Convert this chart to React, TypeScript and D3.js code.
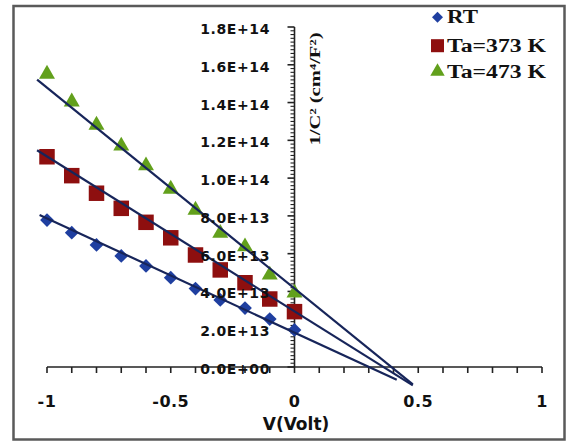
import React from "react";
import * as d3 from "d3";

// ---- data (values in units of 1e13 cm^4/F^2) ----
const voltages = [-1, -0.9, -0.8, -0.7, -0.6, -0.5, -0.4, -0.3, -0.2, -0.1, 0];
const rtValues = [7.78, 7.11, 6.46, 5.88, 5.35, 4.73, 4.15, 3.55, 3.12, 2.54, 1.96];
const ta373Values = [11.13, 10.13, 9.2, 8.4, 7.66, 6.84, 5.93, 5.14, 4.46, 3.6, 2.93];
const ta473Values = [15.51, 14.04, 12.81, 11.7, 10.66, 9.42, 8.31, 7.09, 6.37, 4.87, 3.92];

const seriesNames = ["RT", "Ta=373 K", "Ta=473 K"];
const seriesColors = ["#1F3FA0", "#8E0F0F", "#62A01C"];

// linear trend lines
const fitSlopes = [-6.05, -8.2, -10.63];
const fitIntercepts = [1.82, 2.95, 4.16];
const fitStart = [-1.03, -1.04, -1.04];
const fitEnd = [0.413, 0.478, 0.478];

const yTicks = [0, 2, 4, 6, 8, 10, 12, 14, 16, 18];
const yTickLabels = ["0.0E+00", "2.0E+13", "4.0E+13", "6.0E+13", "8.0E+13", "1.0E+14", "1.2E+14", "1.4E+14", "1.6E+14", "1.8E+14"];
const xTicks = [-1, -0.5, 0, 0.5, 1];
const xTickLabels = ["-1", "-0.5", "0", "0.5", "1"];

const W = 571;
const H = 443;

export default function App() {
  const x = d3.scaleLinear().domain([-1, 1]).range([47, 542]);
  const y = d3.scaleLinear().domain([0, 18]).range([367, 27]);
  const x0 = x(0);
  const y0 = y(0);

  const series = [rtValues, ta373Values, ta473Values];
  const symbols = [
    { type: d3.symbolSquare, size: 95, rot: 45 },
    { type: d3.symbolSquare, size: 240, rot: 0 },
    { type: d3.symbolTriangle, size: 110, rot: 0 },
  ];
  const legendSymbols = [
    { type: d3.symbolSquare, size: 60, rot: 45 },
    { type: d3.symbolSquare, size: 170, rot: 0 },
    { type: d3.symbolTriangle, size: 90, rot: 0 },
  ];

  const minorY = d3.range(0, 18.001, 0.2);
  const minorX = d3.range(-1, 1.0001, 0.1);

  const fitLine = d3
    .line<number>()
    .x((v) => x(v))
    .y(function (this: any, v: number) {
      return 0;
    });

  const labelFont = "'DejaVu Sans', Verdana, sans-serif";
  const serif = "'Liberation Serif', 'Times New Roman', serif";

  return (
    <svg
      width={W}
      height={H}
      style={{ position: "absolute", left: 0, top: 0, background: "#fff" }}
    >
      <rect x={0} y={0} width={W} height={H} fill="#fff" />
      {/* frame */}
      <rect x={13.5} y={6} width={551} height={433.5} fill="none" stroke="#5a5a5a" strokeWidth={2.5} />

      {/* axes */}
      <line x1={x(-1)} x2={x(1)} y1={y0} y2={y0} stroke="#222" strokeWidth={1.6} />
      <line x1={x0} x2={x0} y1={y(18)} y2={y0} stroke="#222" strokeWidth={1.6} />
      {minorX.map((v, i) => (
        <line key={"xt" + i} x1={x(v)} x2={x(v)} y1={y0} y2={y0 + 6} stroke="#222" strokeWidth={1.6} />
      ))}
      {minorY.map((v, i) => {
        const major = Math.abs(v / 2 - Math.round(v / 2)) < 1e-6;
        return (
          <line
            key={"yt" + i}
            x1={x0 - (major ? 7 : 4)}
            x2={x0}
            y1={y(v)}
            y2={y(v)}
            stroke="#222"
            strokeWidth={major ? 1.6 : 1.1}
          />
        );
      })}

      {/* markers */}
      {series.map((vals, si) => (
        <g key={"s" + si} fill={seriesColors[si]}>
          {vals.map((v, i) => (
            <path
              key={i}
              d={d3.symbol(symbols[si].type, symbols[si].size)() || ""}
              transform={`translate(${x(voltages[i])},${y(v)}) rotate(${symbols[si].rot})`}
            />
          ))}
        </g>
      ))}

      {/* trend lines */}
      {fitSlopes.map((m, si) => {
        const pts: [number, number][] = [fitStart[si], fitEnd[si]].map((v) => [
          x(v),
          y(fitIntercepts[si] + m * v),
        ]);
        return (
          <path
            key={"f" + si}
            d={d3.line()(pts) || ""}
            fill="none"
            stroke="#17255A"
            strokeWidth={2.2}
          />
        );
      })}

      {/* y tick labels */}
      {yTicks.map((v, i) => (
        <text
          key={"yl" + i}
          x={270}
          y={y(v) + 2}
          textAnchor="end"
          dominantBaseline="central"
          fontFamily={labelFont}
          fontWeight="bold"
          fontSize={14}
          letterSpacing={0.6}
          fill="#111"
        >
          {yTickLabels[i]}
        </text>
      ))}

      {/* x tick labels */}
      {xTicks.map((v, i) => (
        <text
          key={"xl" + i}
          x={x(v)}
          y={407}
          textAnchor="middle"
          fontFamily={labelFont}
          fontWeight="bold"
          fontSize={16}
          letterSpacing={0.5}
          fill="#111"
        >
          {xTickLabels[i]}
        </text>
      ))}

      {/* axis titles */}
      <text
        x={296}
        y={430}
        textAnchor="middle"
        fontFamily={labelFont}
        fontWeight="bold"
        fontSize={17}
        fill="#111"
      >
        V(Volt)
      </text>
      <text
        transform="translate(320,89) rotate(-90)"
        textAnchor="middle"
        fontFamily={serif}
        fontWeight="bold"
        fontSize={15}
        fill="#111"
        textLength={113}
        lengthAdjust="spacingAndGlyphs"
      >
        1/C² (cm⁴/F²)
      </text>

      {/* legend */}
      {seriesNames.map((name, si) => {
        const ly = [17.3, 45.7, 71.5][si];
        return (
          <g key={"lg" + si}>
            <path
              d={d3.symbol(legendSymbols[si].type, legendSymbols[si].size)() || ""}
              transform={`translate(437.5,${ly}) rotate(${legendSymbols[si].rot})`}
              fill={seriesColors[si]}
            />
            <text
              x={447}
              y={ly + 6}
              fontFamily={serif}
              fontWeight="bold"
              fontSize={18}
              fill="#111"
              textLength={si === 0 ? 31 : 99}
              lengthAdjust="spacingAndGlyphs"
            >
              {name}
            </text>
          </g>
        );
      })}
    </svg>
  );
}
